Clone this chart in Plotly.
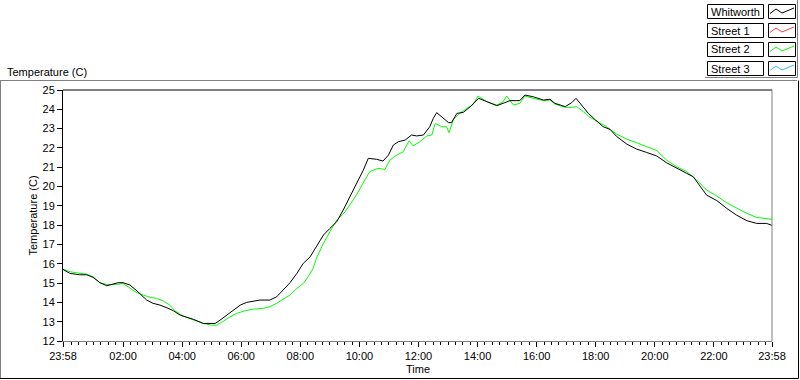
import plotly.graph_objects as go
from datetime import datetime, timedelta

# ---------------- data ----------------
series_names = ["Whitworth", "Street 1", "Street 2", "Street 3"]
series_colors = ["#000000", "#ff3c3c", "#00ff00", "#33bbff"]

whitworth_time = ["23:58","00:12","00:32","00:46","00:59","01:13","01:27","01:40","01:50","02:00",
    "02:14","02:28","02:38","02:48","03:01","03:15","03:29","03:42","03:56","04:09",
    "04:23","04:43","05:07","05:17","05:31","05:44","05:58","06:11","06:25","06:38",
    "06:58","07:12","07:25","07:39","07:53","08:06","08:20","08:33","08:47","09:00",
    "09:14","09:27","09:41","09:54","10:08","10:18","10:35","10:48","10:59","11:09",
    "11:19","11:33","11:46","11:56","12:10","12:23","12:30","12:37","12:47","13:01",
    "13:07","13:18","13:31","13:45","14:02","14:19","14:39","14:52","15:06","15:26",
    "15:36","15:53","16:14","16:27","16:37","16:58","17:11","17:20","17:31","17:45",
    "17:58","18:15","18:29","18:43","19:03","19:23","19:43","20:04","20:24","20:44",
    "21:05","21:18","21:32","21:45","22:06","22:26","22:46","23:07","23:27","23:47","23:58"]
whitworth_temp = [15.71,15.50,15.43,15.43,15.30,15.02,14.86,14.93,15.02,15.02,
    14.90,14.60,14.38,14.12,13.95,13.86,13.72,13.57,13.34,13.25,
    13.12,12.91,12.91,13.08,13.34,13.60,13.86,14.00,14.08,14.12,
    14.12,14.29,14.64,15.02,15.50,16.02,16.36,16.88,17.49,17.83,
    18.18,18.78,19.47,20.08,20.85,21.46,21.41,21.32,21.63,22.15,
    22.32,22.41,22.67,22.62,22.67,23.10,23.53,23.83,23.62,23.31,
    23.31,23.79,23.84,24.13,24.57,24.39,24.19,24.31,24.45,24.45,
    24.74,24.65,24.48,24.52,24.31,24.14,24.34,24.57,24.22,23.79,
    23.48,23.10,22.96,22.58,22.20,21.94,21.77,21.58,21.23,20.94,
    20.68,20.51,19.99,19.56,19.27,18.87,18.52,18.23,18.09,18.09,17.99]

street1_time = []
street1_temp = []

street2_time = ["23:58","00:12","00:33","00:46","01:00","01:13","01:27","01:47","02:00","02:14",
    "02:28","02:41","02:55","03:08","03:22","03:35","03:45","04:02","04:23","04:43",
    "05:00","05:10","05:24","05:37","05:51","06:08","06:25","06:45","06:58","07:12",
    "07:25","07:39","07:53","08:06","08:16","08:26","08:33","08:47","09:00","09:14",
    "09:31","09:41","09:54","10:11","10:21","10:38","10:52","11:02","11:16","11:29",
    "11:41","11:49","12:03","12:17","12:27","12:34","12:47","12:57","13:02","13:11",
    "13:24","13:38","13:50","14:01","14:19","14:39","14:52","14:59","15:13","15:26",
    "15:36","15:53","16:14","16:27","16:37","16:58","17:11","17:21","17:35","17:48",
    "18:05","18:22","18:42","19:03","19:23","19:43","20:04","20:24","20:44","21:05",
    "21:25","21:45","22:06","22:26","22:46","23:07","23:27","23:47","23:58"]
street2_temp = [15.71,15.59,15.50,15.47,15.30,15.02,14.93,14.93,14.98,14.72,
    14.50,14.38,14.26,14.21,14.07,13.86,13.57,13.29,13.08,12.91,
    12.82,12.82,13.03,13.25,13.43,13.57,13.65,13.69,13.78,13.95,
    14.16,14.38,14.72,14.98,15.33,15.76,16.30,17.06,17.66,18.26,
    18.69,19.04,19.56,20.34,20.77,20.94,20.89,21.37,21.63,21.80,
    22.37,22.11,22.32,22.62,22.67,23.27,23.10,23.10,22.79,23.48,
    23.79,24.05,24.22,24.69,24.39,24.22,24.39,24.69,24.22,24.31,
    24.69,24.57,24.45,24.48,24.27,24.10,24.10,24.14,23.88,23.59,
    23.36,23.10,22.72,22.45,22.27,22.06,21.86,21.37,21.03,20.77,
    20.34,19.82,19.51,19.16,18.87,18.61,18.40,18.35,18.30]

street3_time = []
street3_temp = []

x_tick_labels = ["23:58","02:00","04:00","06:00","08:00","10:00","12:00",
                 "14:00","16:00","18:00","20:00","22:00","23:58"]
y_ticks = list(range(12, 26))

# ---------------- helpers ----------------
START = datetime(2024, 1, 1, 23, 58)
DAY2 = datetime(2024, 1, 2)


def to_dt(times):
    out = []
    for i, t in enumerate(times):
        h, m = map(int, t.split(":"))
        if i == 0 and t == "23:58":
            out.append(START)
        else:
            out.append(DAY2 + timedelta(hours=h, minutes=m))
    return out


def tick_dt(labels):
    out = []
    for i, t in enumerate(labels):
        h, m = map(int, t.split(":"))
        out.append(START if i == 0 else DAY2 + timedelta(hours=h, minutes=m))
    return out


W, H = 800, 380
L, R, T, B = 63, 772, 90, 341


def px(x):
    return (x - L) / (R - L)


def py(y):
    return (B - y) / (B - T)


FONT = "Liberation Sans, Arial, sans-serif"

fig = go.Figure()
all_data = [(whitworth_time, whitworth_temp), (street1_time, street1_temp),
            (street2_time, street2_temp), (street3_time, street3_temp)]
# draw order: streets first, Whitworth on top
for idx in [1, 2, 3, 0]:
    tt, vv = all_data[idx]
    fig.add_trace(go.Scatter(x=to_dt(tt), y=vv, mode="lines", name=series_names[idx],
                             line=dict(color=series_colors[idx], width=1),
                             showlegend=False, hoverinfo="skip"))

shapes = []
gray = "#808080"
# plot frame: top black, right gray
shapes.append(dict(type="line", xref="paper", yref="paper", x0=0, x1=1, y0=1, y1=1,
                   line=dict(color="black", width=1)))
shapes.append(dict(type="line", xref="paper", yref="paper", x0=1, x1=1, y0=0, y1=1,
                   line=dict(color=gray, width=1)))
# outer panel
shapes.append(dict(type="line", xref="paper", yref="paper", x0=px(0), x1=px(797), y0=py(80.5), y1=py(80.5),
                   line=dict(color=gray, width=1)))
shapes.append(dict(type="line", xref="paper", yref="paper", x0=px(0.5), x1=px(0.5), y0=py(80.5), y1=py(378.5),
                   line=dict(color=gray, width=1)))
shapes.append(dict(type="line", xref="paper", yref="paper", x0=px(0), x1=px(798.5), y0=py(378.5), y1=py(378.5),
                   line=dict(color="black", width=1)))
shapes.append(dict(type="line", xref="paper", yref="paper", x0=px(798.5), x1=px(798.5), y0=py(80.5), y1=py(378.5),
                   line=dict(color="black", width=1)))
# legend frame
shapes.append(dict(type="line", xref="paper", yref="paper", x0=px(797.5), x1=px(797.5), y0=py(0), y1=py(77.5),
                   line=dict(color=gray, width=1)))
shapes.append(dict(type="line", xref="paper", yref="paper", x0=px(705), x1=px(797.5), y0=py(77.5), y1=py(77.5),
                   line=dict(color=gray, width=1)))

annotations = []
for i, name in enumerate(series_names):
    top = 4.5 + 19 * i
    shapes.append(dict(type="rect", xref="paper", yref="paper", x0=px(707.5), x1=px(763.5),
                       y0=py(top), y1=py(top + 14), line=dict(color="black", width=1), fillcolor="white"))
    shapes.append(dict(type="rect", xref="paper", yref="paper", x0=px(768.5), x1=px(795.5),
                       y0=py(top), y1=py(top + 14), line=dict(color="black", width=1), fillcolor="white"))
    pts = [(770, top + 9), (776, top + 4.5), (782, top + 8.5), (788, top + 6), (794, top + 3.5)]
    path = "M " + " L ".join(f"{px(a):.5f},{py(b):.5f}" for a, b in pts)
    shapes.append(dict(type="path", xref="paper", yref="paper", path=path,
                       line=dict(color=series_colors[i], width=1)))
    annotations.append(dict(text=name, xref="paper", yref="paper", x=px(709), y=py(top + 7),
                            xanchor="left", yanchor="middle", showarrow=False,
                            font=dict(family=FONT, size=11, color="black")))

annotations.append(dict(text="Temperature (C)", xref="paper", yref="paper", x=px(5), y=py(72),
                        xanchor="left", yanchor="middle", showarrow=False,
                        font=dict(family=FONT, size=11, color="black")))
annotations.append(dict(text="Temperature (C)", xref="paper", yref="paper", x=px(32), y=0.5,
                        xanchor="center", yanchor="middle", textangle=-90, showarrow=False,
                        font=dict(family=FONT, size=11, color="black")))
annotations.append(dict(text="Time", xref="paper", yref="paper", x=0.5, y=py(369),
                        xanchor="center", yanchor="middle", showarrow=False,
                        font=dict(family=FONT, size=11, color="black")))

fig.update_layout(
    width=W, height=H,
    margin=dict(l=L, r=W - R, t=T, b=H - B, pad=0),
    paper_bgcolor="white", plot_bgcolor="white",
    showlegend=False,
    shapes=shapes, annotations=annotations,
    font=dict(family=FONT, size=11, color="black"),
)
fig.update_xaxes(
    type="date",
    range=[START, DAY2 + timedelta(hours=23, minutes=58)],
    tickmode="array", tickvals=tick_dt(x_tick_labels), ticktext=x_tick_labels,
    ticks="outside", ticklen=5, tickcolor="black", tickwidth=1,
    showline=True, linecolor=gray, linewidth=1,
    showgrid=False, zeroline=False,
    minor=dict(ticks="outside", ticklen=3, tickcolor="black", tickwidth=1,
               tickmode="linear", tick0="2024-01-02 00:00", dtick=15 * 60 * 1000, showgrid=False),
    tickfont=dict(family=FONT, size=11, color="black"),
)
fig.update_yaxes(
    range=[12, 25], tickmode="array", tickvals=y_ticks, ticktext=[str(v) for v in y_ticks],
    ticks="outside", ticklen=5, tickcolor="black", tickwidth=1,
    showline=True, linecolor="black", linewidth=1,
    showgrid=False, zeroline=False,
    tickfont=dict(family=FONT, size=11, color="black"),
)

fig.write_html("out.html", config={"displayModeBar": False, "staticPlot": True})

# remove the browser's default page margin so the figure sits at (0, 0)
with open("out.html", "r", encoding="utf-8") as f:
    html = f.read()
html = html.replace("<head>", "<head><style>html,body{margin:0;padding:0;overflow:hidden;}</style>", 1)
with open("out.html", "w", encoding="utf-8") as f:
    f.write(html)
